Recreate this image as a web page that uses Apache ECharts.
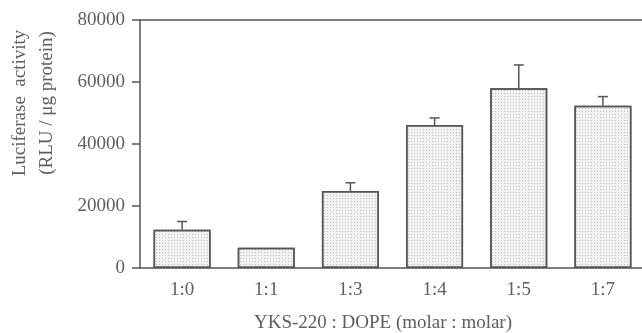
<!DOCTYPE html>
<html>
<head>
<meta charset="utf-8">
<script src="https://cdn.jsdelivr.net/npm/echarts@6/dist/echarts.min.js"></script>
<style>html,body{margin:0;padding:0;background:#fff;}#c{width:642px;height:333px;}</style>
</head>
<body>
<div id="c"></div>
<script>
var categories = ['1:0', '1:1', '1:3', '1:4', '1:5', '1:7'];
var values = [12300, 6500, 24800, 46100, 58000, 52300];
var errorTops = [15000, null, 27500, 48400, 65500, 55300];
var yTicks = [0, 20000, 40000, 60000, 80000];

var chart = echarts.init(document.getElementById('c'), null, {renderer: 'canvas'});
var font = 'Liberation Serif, Times New Roman, serif';
var ink = '#555';
var txt = '#5e5e5e';

var errData = [];
for (var i = 0; i < categories.length; i++) {
  if (errorTops[i] != null) errData.push([i, values[i], errorTops[i]]);
}

chart.setOption({
  animation: false,
  backgroundColor: '#fff',
  grid: {left: 140, top: 20, right: -3, bottom: 65, show: false, containLabel: false, outerBoundsMode: 'none'},
  xAxis: [{
    type: 'category',
    data: categories,
    boundaryGap: true,
    name: 'YKS-220 : DOPE (molar : molar)',
    nameLocation: 'middle',
    nameGap: 46,
    nameTextStyle: {fontFamily: font, fontSize: 19, color: txt, padding: [0, 19, 0, 0]},
    axisLine: {lineStyle: {color: ink, width: 1.5}},
    axisTick: {alignWithLabel: true, length: 7, lineStyle: {color: ink, width: 1.5}},
    axisLabel: {fontFamily: font, fontSize: 19, color: txt, margin: 13}
  }, {
    type: 'category',
    data: categories,
    position: 'top',
    axisLine: {show: true, lineStyle: {color: ink, width: 1.5}},
    axisTick: {show: false},
    axisLabel: {show: false}
  }],
  yAxis: {
    type: 'value',
    min: yTicks[0],
    max: yTicks[yTicks.length - 1],
    interval: yTicks[1] - yTicks[0],
    name: 'Luciferase  activity\n(RLU / \u03bcg protein)',
    nameLocation: 'middle',
    nameRotate: 90,
    nameGap: 79,
    nameTextStyle: {fontFamily: font, fontSize: 19, color: txt, lineHeight: 27, padding: [0, 0, 0, 82]},
    splitLine: {show: false},
    axisLine: {show: true, lineStyle: {color: ink, width: 1.5}},
    axisTick: {show: true, length: 8, lineStyle: {color: ink, width: 1.5}},
    axisLabel: {fontFamily: font, fontSize: 19, color: txt, margin: 15, formatter: function (v) { return String(v); }}
  },
  series: [
    {
      type: 'bar',
      data: values,
      barWidth: 57,
      itemStyle: {
        color: '#f2f2f2',
        borderColor: ink,
        borderWidth: 1.5,
        decal: {symbol: 'rect', symbolSize: 1, dashArrayX: [1, 2], dashArrayY: [1, 2], color: 'rgba(0,0,0,0.22)', rotation: 0}
      },
      z: 2
    },
    {
      type: 'custom',
      data: errData,
      z: 3,
      renderItem: function (params, api) {
        var lo = api.coord([api.value(0), api.value(1)]);
        var hi = api.coord([api.value(0), api.value(2)]);
        var style = {stroke: ink, lineWidth: 1.5};
        return {
          type: 'group',
          children: [
            {type: 'line', shape: {x1: lo[0], y1: lo[1], x2: hi[0], y2: hi[1]}, style: style},
            {type: 'line', shape: {x1: hi[0] - 5, y1: hi[1], x2: hi[0] + 5, y2: hi[1]}, style: style}
          ]
        };
      },
      encode: {x: 0, y: [1, 2]}
    }
  ]
});
</script>
</body>
</html>
